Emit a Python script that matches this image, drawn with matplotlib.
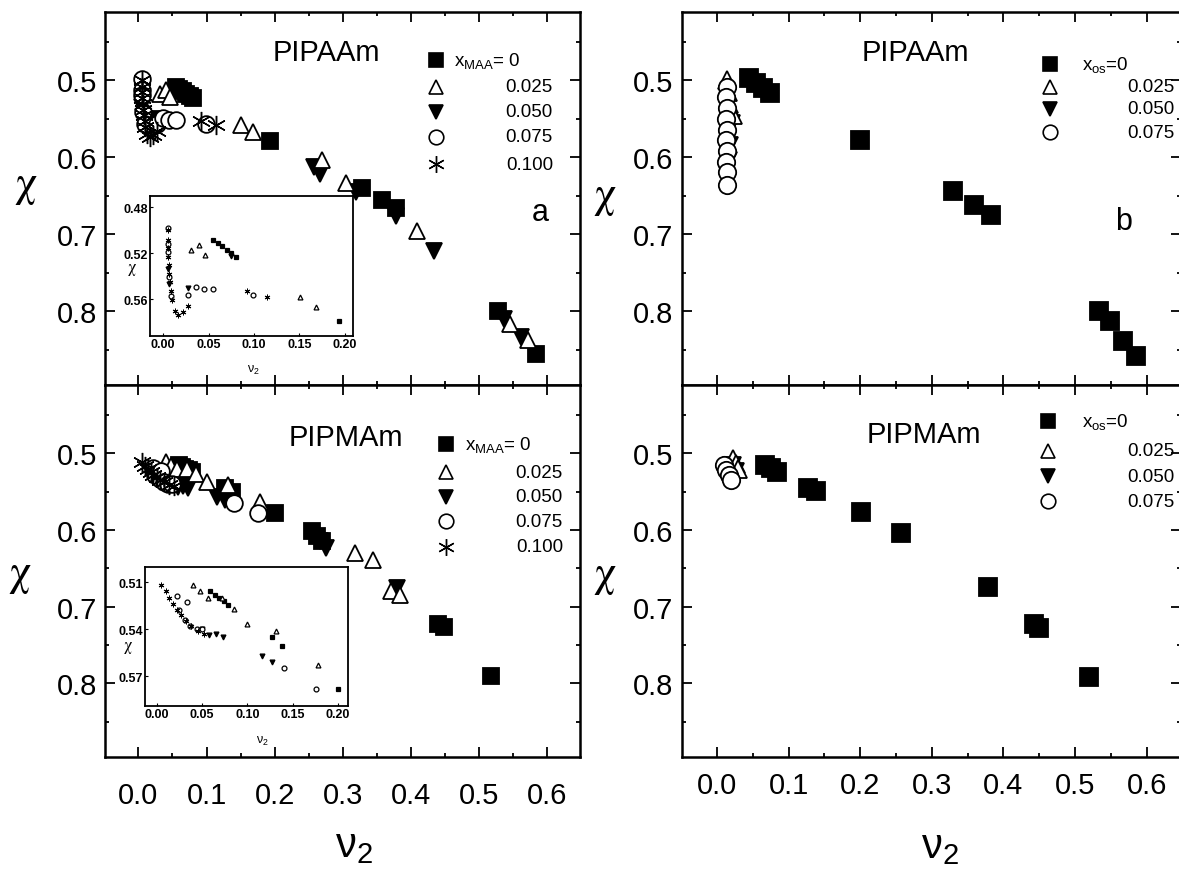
import numpy as np
import matplotlib
matplotlib.use('Agg')
from matplotlib import pyplot as plt
from matplotlib.ticker import MultipleLocator, FormatStrFormatter

plt.rcParams['font.family'] = ['Liberation Sans', 'DejaVu Sans']
plt.rcParams['mathtext.fontset'] = 'custom'
plt.rcParams['mathtext.rm'] = 'Liberation Sans'
plt.rcParams['mathtext.it'] = 'Liberation Sans:italic'

# ---- data (v2, chi) ----
# (a) PIPAAm, x_MAA series
tl_v0 = [0.055, 0.060, 0.065, 0.070, 0.075, 0.080, 0.193, 0.328, 0.358, 0.378, 0.527, 0.583]
tl_c0 = [0.508, 0.511, 0.514, 0.517, 0.520, 0.523, 0.579, 0.640, 0.655, 0.666, 0.800, 0.856]
tl_v1 = [0.031, 0.040, 0.046, 0.151, 0.168, 0.270, 0.305, 0.409, 0.546, 0.572]
tl_c1 = [0.517, 0.513, 0.521, 0.558, 0.567, 0.603, 0.633, 0.696, 0.817, 0.838]
tl_v2 = [0.006, 0.007, 0.028, 0.075, 0.258, 0.266, 0.320, 0.378, 0.434, 0.536, 0.562]
tl_c2 = [0.534, 0.547, 0.550, 0.522, 0.612, 0.622, 0.645, 0.676, 0.722, 0.810, 0.834]
tl_v3 = [0.006, 0.006, 0.006, 0.007, 0.009, 0.027, 0.036, 0.045, 0.055, 0.099]
tl_c3 = [0.498, 0.512, 0.519, 0.541, 0.557, 0.556, 0.549, 0.551, 0.551, 0.556]
tl_v4 = [0.005, 0.005, 0.006, 0.006, 0.007, 0.007, 0.008, 0.009, 0.010, 0.013, 0.017, 0.022, 0.028, 0.092, 0.114]
tl_c4 = [0.500, 0.508, 0.515, 0.523, 0.530, 0.538, 0.545, 0.553, 0.561, 0.570, 0.574, 0.571, 0.566, 0.553, 0.558]

# (b) PIPAAm, x_os series
tr_v0 = [0.044, 0.054, 0.064, 0.074, 0.200, 0.329, 0.359, 0.383, 0.533, 0.549, 0.567, 0.585]
tr_c0 = [0.497, 0.503, 0.510, 0.516, 0.577, 0.644, 0.662, 0.675, 0.800, 0.813, 0.839, 0.858]
tr_v1 = [0.014, 0.015, 0.016, 0.022]
tr_c1 = [0.500, 0.515, 0.530, 0.545]
tr_v2 = [0.015, 0.016, 0.020, 0.015]
tr_c2 = [0.565, 0.585, 0.556, 0.605]
tr_v3 = [0.014, 0.013, 0.014, 0.013, 0.014, 0.013, 0.014, 0.013, 0.014, 0.014]
tr_c3 = [0.508, 0.522, 0.536, 0.550, 0.564, 0.577, 0.592, 0.606, 0.619, 0.636]

# PIPMAm, x_MAA series
bl_v0 = [0.059, 0.064, 0.069, 0.074, 0.079, 0.127, 0.138, 0.200, 0.255, 0.262, 0.270, 0.440, 0.448, 0.518]
bl_c0 = [0.5155, 0.518, 0.520, 0.522, 0.5245, 0.545, 0.551, 0.578, 0.602, 0.608, 0.614, 0.722, 0.727, 0.790]
bl_v1 = [0.040, 0.048, 0.056, 0.072, 0.085, 0.100, 0.131, 0.178, 0.318, 0.344, 0.370, 0.384]
bl_c1 = [0.512, 0.516, 0.520, 0.520, 0.527, 0.537, 0.541, 0.563, 0.630, 0.639, 0.680, 0.685]
bl_v2 = [0.050, 0.058, 0.0655, 0.073, 0.116, 0.127, 0.266, 0.275, 0.380]
bl_c2 = [0.540, 0.544, 0.543, 0.545, 0.557, 0.561, 0.615, 0.624, 0.676]
bl_v3 = [0.022, 0.025, 0.031, 0.0335, 0.037, 0.044, 0.050, 0.140, 0.176]
bl_c3 = [0.519, 0.528, 0.534, 0.523, 0.538, 0.540, 0.540, 0.5645, 0.578]
bl_v4 = [0.005, 0.010, 0.014, 0.018, 0.022, 0.027, 0.032, 0.038, 0.045, 0.052]
bl_c4 = [0.512, 0.516, 0.520, 0.524, 0.528, 0.531, 0.535, 0.538, 0.541, 0.543]

# PIPMAm, x_os series
br_v0 = [0.067, 0.075, 0.084, 0.127, 0.138, 0.201, 0.257, 0.378, 0.442, 0.449, 0.520]
br_c0 = [0.515, 0.519, 0.525, 0.545, 0.549, 0.576, 0.604, 0.675, 0.722, 0.728, 0.792]
br_v1 = [0.022, 0.026, 0.029]
br_c1 = [0.507, 0.514, 0.521]
br_v2 = [0.021, 0.025]
br_c2 = [0.517, 0.524]
br_v3 = [0.010, 0.013, 0.016, 0.020]
br_c3 = [0.515, 0.522, 0.528, 0.535]

maa_labels = ['0', '0.025', '0.050', '0.075', '0.100']
os_labels = ['0', '0.025', '0.050', '0.075']

# marker, face colour, size factor; order is ■ △ ▼ ○ ✳
marks = [('s', 'k', 1.0), ('^', 'w', 1.0), ('v', 'k', 1.0), ('o', 'w', 1.0), ((6, 2, 0), 'k', 1.15)]

W, H = 1179, 870
fig = plt.figure(figsize=(W / 100, H / 100), dpi=100)


def fx(px):
    return px / W


def fy(py):
    return 1 - py / H


def plot_sets(ax, vs, cs, ms, mew):
    # draw squares first, open symbols on top, asterisks last
    for i in [0, 2, 1, 3, 4]:
        if i >= len(vs):
            continue
        m, fc, k = marks[i]
        lw = mew * 0.8 if i == 4 else mew
        ax.plot(vs[i], cs[i], ls='none', marker=m, mfc=fc, mec='k', ms=ms * k, mew=lw, zorder=3)


def style_main(ax, xlabels, xpad, ypad):
    ax.set_xlim(-0.049, 0.648)
    ax.set_ylim(0.896, 0.411)
    ax.xaxis.set_major_locator(MultipleLocator(0.1))
    ax.xaxis.set_minor_locator(MultipleLocator(0.05))
    ax.yaxis.set_major_locator(MultipleLocator(0.1))
    ax.yaxis.set_minor_locator(MultipleLocator(0.05))
    ax.xaxis.set_major_formatter(FormatStrFormatter('%.1f'))
    ax.yaxis.set_major_formatter(FormatStrFormatter('%.1f'))
    ax.tick_params(which='both', direction='in', top=True, right=True, width=1.3, labelsize=21)
    ax.tick_params(which='major', length=7)
    ax.tick_params(which='minor', length=3)
    ax.tick_params(axis='x', pad=xpad, labelbottom=xlabels)
    ax.tick_params(axis='y', pad=ypad)
    for s in ax.spines.values():
        s.set_linewidth(1.8)


def draw_key(ax, mx, rows, labels, first, xl, xn, ha, fs):
    for i, lab in enumerate(labels):
        m, fc, k = marks[i]
        lw = 1.0 if i == 4 else 1.2
        ax.plot([mx], [rows[i]], ls='none', marker=m, mfc=fc, mec='k', ms=10.5 * k, mew=lw,
                transform=ax.transAxes, clip_on=False, zorder=5)
        if i == 0:
            ax.text(xl, rows[i], first, transform=ax.transAxes, fontsize=fs, ha='left', va='center')
        else:
            ax.text(xn, rows[i], lab, transform=ax.transAxes, fontsize=fs, ha=ha, va='center')


def style_inset(ax, xlim, ylim, yt):
    ax.set_xlim(*xlim)
    ax.set_ylim(*ylim)
    ax.set_xticks([0.0, 0.05, 0.10, 0.15, 0.20])
    ax.set_yticks(yt)
    ax.xaxis.set_major_formatter(FormatStrFormatter('%.2f'))
    ax.yaxis.set_major_formatter(FormatStrFormatter('%.2f'))
    ax.tick_params(direction='in', length=2, width=0.8, pad=1.5, labelsize=9)
    for t in ax.get_xticklabels() + ax.get_yticklabels():
        t.set_fontweight('bold')
    for s in ax.spines.values():
        s.set_linewidth(1.3)


# main axes
ax_tl = fig.add_axes([fx(105), fy(386), fx(475), 373 / H])
ax_bl = fig.add_axes([fx(105), fy(758), fx(475), 372 / H])
ax_tr = fig.add_axes([fx(682), fy(386), fx(499), 373 / H])
ax_br = fig.add_axes([fx(682), fy(758), fx(499), 372 / H])

tl_v = [tl_v0, tl_v1, tl_v2, tl_v3, tl_v4]
tl_c = [tl_c0, tl_c1, tl_c2, tl_c3, tl_c4]
bl_v = [bl_v0, bl_v1, bl_v2, bl_v3, bl_v4]
bl_c = [bl_c0, bl_c1, bl_c2, bl_c3, bl_c4]
tr_v = [tr_v0, tr_v1, tr_v2, tr_v3]
tr_c = [tr_c0, tr_c1, tr_c2, tr_c3]
br_v = [br_v0, br_v1, br_v2, br_v3]
br_c = [br_c0, br_c1, br_c2, br_c3]

plot_sets(ax_tl, tl_v, tl_c, 12, 1.3)
plot_sets(ax_bl, bl_v, bl_c, 12, 1.3)
plot_sets(ax_tr, tr_v, tr_c, 12.5, 1.3)
plot_sets(ax_br, br_v, br_c, 12.5, 1.3)

style_main(ax_tl, False, 17, 5.5)
style_main(ax_bl, True, 17, 5.5)
style_main(ax_tr, False, 10, 6.5)
style_main(ax_br, True, 10, 6.5)

# panel titles and keys
ax_tl.text(0.467, 0.893, 'PIPAAm', transform=ax_tl.transAxes, fontsize=21, ha='center', va='center')
ax_tl.text(0.916, 0.464, 'a', transform=ax_tl.transAxes, fontsize=22, ha='center', va='center')
draw_key(ax_tl, 0.697, [0.871, 0.799, 0.732, 0.665, 0.592], maa_labels,
         r'$\mathregular{x_{MAA}}$= 0', 0.735, 0.943, 'right', 13.5)

ax_bl.text(0.507, 0.860, 'PIPMAm', transform=ax_bl.transAxes, fontsize=21, ha='center', va='center')
draw_key(ax_bl, 0.718, [0.841, 0.766, 0.699, 0.634, 0.565], maa_labels,
         r'$\mathregular{x_{MAA}}$= 0', 0.757, 0.964, 'right', 13.5)

ax_tr.text(0.467, 0.893, 'PIPAAm', transform=ax_tr.transAxes, fontsize=21, ha='center', va='center')
ax_tr.text(0.884, 0.44, 'b', transform=ax_tr.transAxes, fontsize=22, ha='center', va='center')
draw_key(ax_tr, 0.737, [0.861, 0.799, 0.740, 0.678], os_labels,
         r'$\mathregular{x_{os}}$=0', 0.802, 0.892, 'left', 13.5)

ax_br.text(0.485, 0.868, 'PIPMAm', transform=ax_br.transAxes, fontsize=21, ha='center', va='center')
draw_key(ax_br, 0.733, [0.903, 0.823, 0.755, 0.688], os_labels,
         r'$\mathregular{x_{os}}$=0', 0.802, 0.892, 'left', 13.5)

# insets (same data, zoomed)
in_tl = fig.add_axes([fx(150), fy(337), fx(203), 140 / H], zorder=4)
plot_sets(in_tl, tl_v, tl_c, 3.5, 0.9)
style_inset(in_tl, (-0.0143, 0.2088), (0.592, 0.470), [0.48, 0.52, 0.56])
in_tl.set_ylabel(r'$\mathrm{\chi}$', rotation=0, fontsize=12, math_fontfamily='stix')
in_tl.yaxis.set_label_coords(-0.09, 0.42)
in_tl.set_xlabel(r'$\mathregular{\nu_2}$', fontsize=9)
in_tl.xaxis.set_label_coords(0.507, -0.19)

in_bl = fig.add_axes([fx(145), fy(707), fx(203), 139 / H], zorder=4)
plot_sets(in_bl, bl_v, bl_c, 3.5, 0.9)
style_inset(in_bl, (-0.013, 0.211), (0.589, 0.5004), [0.51, 0.54, 0.57])
in_bl.set_ylabel(r'$\mathrm{\chi}$', rotation=0, fontsize=12, math_fontfamily='stix')
in_bl.yaxis.set_label_coords(-0.085, 0.37)
in_bl.set_xlabel(r'$\mathregular{\nu_2}$', fontsize=9)
in_bl.xaxis.set_label_coords(0.58, -0.2)

# axis titles
for px, py in [(26, 187), (20, 576), (605, 197), (605, 577)]:
    fig.text(fx(px), fy(py), r'$\mathrm{\chi}$', fontsize=32, ha='center', va='center', math_fontfamily='stix')
for px, py in [(354, 846), (940, 847)]:
    fig.text(fx(px), fy(py), r'$\mathregular{\nu_2}$', fontsize=30, ha='center', va='center')

fig.savefig('out.png', dpi=100, facecolor='white')
